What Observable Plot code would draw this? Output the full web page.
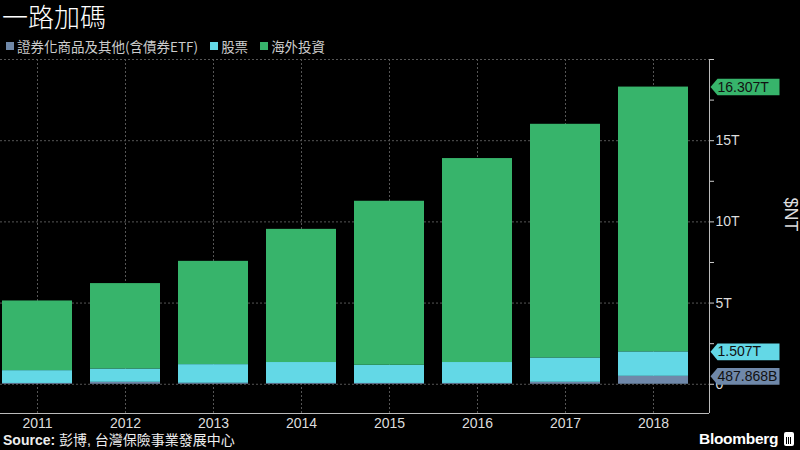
<!DOCTYPE html>
<html><head><meta charset="utf-8">
<script src="https://cdn.jsdelivr.net/npm/d3@7"></script>
<script src="https://cdn.jsdelivr.net/npm/@observablehq/plot@0.6"></script>
<style>
html,body{margin:0;padding:0;background:#000;}
body{width:800px;height:450px;overflow:hidden;position:relative;font-family:"Liberation Sans","Noto Sans CJK TC",Arial,sans-serif;color:#ddd;}
#title{position:absolute;left:2px;top:0px;font-family:"Noto Sans CJK TC",sans-serif;font-size:26px;line-height:32px;color:#fff;font-weight:300;}
#legend{position:absolute;left:6px;top:38px;display:flex;align-items:center;font-size:13.5px;line-height:16px;color:#ccc;font-family:"Noto Sans CJK TC","Liberation Sans",sans-serif;}
#legend .item{display:flex;align-items:center;margin-right:12px;}
#legend .sw{width:8px;height:8px;margin-right:3px;}
#chart{position:absolute;left:0;top:56px;}
#source{position:absolute;left:3px;top:431px;font-size:14px;line-height:18px;color:#eee;font-family:"Liberation Sans","Noto Sans CJK TC",sans-serif;}
#source b{font-weight:700;}
#brand{position:absolute;left:699px;top:430px;font-size:15.5px;line-height:18px;font-weight:700;color:#fff;font-family:"Liberation Sans",Arial,sans-serif;display:flex;align-items:center;letter-spacing:-0.3px;}
#brand .icon{display:inline-block;width:10px;height:14px;margin-left:6px;background:#fff;border-radius:2px;position:relative;}
#brand .icon::after{content:"";position:absolute;left:2px;right:2px;bottom:2px;height:7px;background:repeating-linear-gradient(90deg,#000 0 1px,transparent 1px 2px);}
</style>
</head><body>
<div id="title">一路加碼</div>
<div id="legend"></div>
<div id="chart"></div>
<div id="source"><b>Source:</b> 彭博, 台灣保險事業發展中心</div>
<div id="brand">Bloomberg<span class="icon"></span></div>
<script>
const titleText = "一路加碼";
const years = ["2011","2012","2013","2014","2015","2016","2017","2018"];
const seriesNames = ["證券化商品及其他(含債券ETF)","股票","海外投資"];
const seriesColors = ["#6f88a9","#63d8e6","#37b46b"];
// values in trillion NT$
const securitized = [0.05,0.12,0.06,0.05,0.05,0.05,0.12,0.488];
const equities    = [0.79,0.82,1.15,1.29,1.12,1.29,1.50,1.507];
const overseas    = [4.29,5.26,6.36,8.20,10.10,12.56,14.39,16.307];
const tagLabels   = ["487.868B","1.507T","16.307T"];
const yMajorTicks = [0,5,10,15];
const yMinorTicks = [2.5,7.5,12.5,17.5,20];
const yGridTicks  = [0,5,10,15,20];
const yDomain     = [-1.8,20];
const axisLabel   = "$NT";

// legend
const legend = document.getElementById("legend");
seriesNames.forEach((n,i)=>{
  const it=document.createElement("div");it.className="item";
  const sw=document.createElement("span");sw.className="sw";sw.style.background=seriesColors[i];
  const t=document.createElement("span");t.textContent=n;
  it.appendChild(sw);it.appendChild(t);legend.appendChild(it);
});

const seriesValues=[securitized,equities,overseas];
const data=[];
years.forEach((y,i)=>{seriesNames.forEach((s,j)=>data.push({year:y,series:s,value:seriesValues[j][i]}));});

const last=years.length-1;
let cum=0;
const tags=seriesNames.map((s,j)=>{cum+=seriesValues[j][last];return {series:s,pos:cum,label:tagLabels[j]};});

const tagSymbol={draw(ctx){ctx.moveTo(1,0);ctx.lineTo(8,-8.3);ctx.lineTo(70,-8.3);ctx.lineTo(70,8.3);ctx.lineTo(8,8.3);ctx.closePath();}};
const gridStyle={stroke:"#555",strokeOpacity:1,strokeDasharray:"2,2"};

// right axis line drawn with the y scale
const axisLine=(index,scales,values,dimensions)=>{
  const x=dimensions.width-dimensions.marginRight+0.5;
  const l=d3.create("svg:line")
    .attr("x1",x).attr("x2",x)
    .attr("y1",scales.y(yDomain[1])).attr("y2",scales.y(yDomain[0]))
    .attr("stroke","#bbb");
  return l.node();
};

const chart=Plot.plot({
  width:800,height:376,marginLeft:0,marginRight:91,marginTop:3,marginBottom:19,
  style:{background:"transparent",color:"#ddd",fontFamily:"'Liberation Sans',Arial,sans-serif",fontSize:"14px",overflow:"visible"},
  x:{domain:years,range:[-9,699],paddingInner:0.21,paddingOuter:0.105},
  y:{domain:yDomain},
  color:{domain:seriesNames,range:seriesColors},
  marks:[
    Plot.gridX(gridStyle),
    Plot.gridY(yGridTicks,gridStyle),
    Plot.barY(data,{x:"year",y:"value",fill:"series"}),
    Plot.ruleY([yDomain[0]],{stroke:"#bbb"}),
    axisLine,
    Plot.axisX({tickSize:0,tickPadding:5,fontSize:14,fill:"#ddd",label:null}),
    Plot.axisY(yMajorTicks,{anchor:"right",tickSize:4,tickPadding:2,stroke:"#ccc",fill:"#ddd",fontSize:14,label:null,tickFormat:d=>d===0?"0":d+"T"}),
    Plot.axisY(yMinorTicks,{anchor:"right",tickSize:4,stroke:"#ccc",tickFormat:()=>"",label:null}),
    Plot.dot(tags,{y:"pos",frameAnchor:"right",symbol:tagSymbol,fill:"series"}),
    Plot.text(tags,{y:"pos",text:"label",frameAnchor:"right",dx:8,textAnchor:"start",fill:"#111",fontSize:14}),
    Plot.text([axisLabel],{text:d=>d,frameAnchor:"right",dx:81,dy:-5,rotate:90,fill:"#ddd",fontSize:18})
  ]
});
document.getElementById("chart").appendChild(chart);
</script>
</body></html>
